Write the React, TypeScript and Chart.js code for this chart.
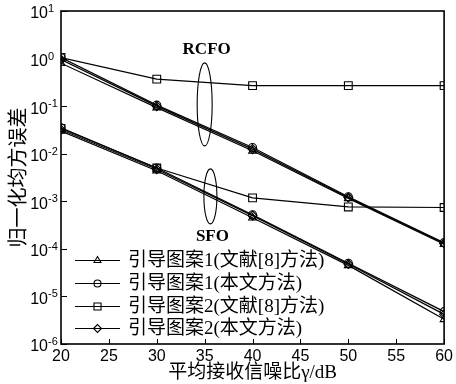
import React, { useEffect, useRef } from 'react';
import { Chart, registerables } from 'chart.js';

Chart.register(...registerables);

// ---- data ----
const snr = [20, 30, 40, 50, 60];
const xTickValues = [20, 25, 30, 35, 40, 45, 50, 55, 60];
const yExponents = [-6, -5, -4, -3, -2, -1, 0, 1];

// pilot pattern 1, ref [8] method (triangle)
const rcfoP1Ref = [0.8, 0.093, 0.0115, 0.00115, 0.000125];
const sfoP1Ref = [0.03, 0.0044, 0.00045, 0.000045, 0.0000033];
// pilot pattern 1, proposed (circle)
const rcfoP1Ours = [1.05, 0.105, 0.0135, 0.00125, 0.000135];
const sfoP1Ours = [0.035, 0.0050, 0.00052, 0.00005, 0.0000048];
// pilot pattern 2, ref [8] method (square)
const rcfoP2Ref = [1.05, 0.37, 0.27, 0.27, 0.27];
const sfoP2Ref = [0.034, 0.0050, 0.00118, 0.00076, 0.00074];
// pilot pattern 2, proposed (diamond)
const rcfoP2Ours = [0.95, 0.1, 0.0125, 0.0012, 0.00013];
const sfoP2Ours = [0.032, 0.0047, 0.0005, 0.000048, 0.0000042];

const legendLabels = [
  '引导图案1(文献[8]方法)',
  '引导图案1(本文方法)',
  '引导图案2(文献[8]方法)',
  '引导图案2(本文方法)',
];
const markerStyles = ['triangle', 'circle', 'rect', 'rectRot'];
const markerRadii = [4.5, 4, 5.5, 4.5];
const rcfoSeries = [rcfoP1Ref, rcfoP1Ours, rcfoP2Ref, rcfoP2Ours];
const sfoSeries = [sfoP1Ref, sfoP1Ours, sfoP2Ref, sfoP2Ours];

// annotation groups (data space): label, ellipse center x, top y, bottom y, label y
const groupLabels = ['RCFO', 'SFO'];
const groupX = [35, 35.6];
const groupTop = [0.81, 0.0048];
const groupBottom = [0.0146, 0.000335];
const groupLabelY = [1.58, 0.00018];

const SANS = '"Liberation Sans", Arial, sans-serif';
const SERIF = '"Liberation Serif", "Times New Roman", "Noto Sans CJK SC", serif';
const CJK_SANS = '"Noto Sans CJK SC", sans-serif';

function drawMarker(ctx: CanvasRenderingContext2D, style: string, x: number, y: number, r: number) {
  ctx.beginPath();
  if (style === 'circle') {
    ctx.arc(x, y, r, 0, Math.PI * 2);
  } else if (style === 'triangle') {
    let rad = 0;
    ctx.moveTo(x + Math.sin(rad) * r, y - Math.cos(rad) * r);
    rad += (2 * Math.PI) / 3;
    ctx.lineTo(x + Math.sin(rad) * r, y - Math.cos(rad) * r);
    rad += (2 * Math.PI) / 3;
    ctx.lineTo(x + Math.sin(rad) * r, y - Math.cos(rad) * r);
    ctx.closePath();
  } else if (style === 'rect') {
    const s = Math.SQRT1_2 * r;
    ctx.rect(x - s, y - s, 2 * s, 2 * s);
  } else {
    ctx.moveTo(x - r, y);
    ctx.lineTo(x, y - r);
    ctx.lineTo(x + r, y);
    ctx.lineTo(x, y + r);
    ctx.closePath();
  }
  ctx.stroke();
}

const decorPlugin = {
  id: 'decor',
  afterDraw(chart: any) {
    const ctx: CanvasRenderingContext2D = chart.ctx;
    const { left, right, top, bottom } = chart.chartArea;
    const xs = chart.scales.x;
    const ys = chart.scales.y;
    ctx.save();
    ctx.strokeStyle = '#000';
    ctx.fillStyle = '#000';
    // frame
    ctx.lineWidth = 1.6;
    ctx.strokeRect(left, top, right - left, bottom - top);
    // inward ticks
    ctx.lineWidth = 1;
    ctx.beginPath();
    xTickValues.forEach((v) => {
      const px = Math.round(xs.getPixelForValue(v)) + 0.5;
      ctx.moveTo(px, bottom);
      ctx.lineTo(px, bottom - 5);
    });
    yExponents.forEach((e) => {
      const py = Math.round(ys.getPixelForValue(Math.pow(10, e))) + 0.5;
      ctx.moveTo(left, py);
      ctx.lineTo(left + 6, py);
    });
    ctx.stroke();

    // y tick labels: 10 with superscript exponent
    yExponents.forEach((e) => {
      const py = ys.getPixelForValue(Math.pow(10, e));
      ctx.font = '16px ' + SANS;
      ctx.textAlign = 'right';
      ctx.textBaseline = 'middle';
      ctx.fillText('10', left - 13, py + 3);
      ctx.font = '11px ' + SANS;
      ctx.textAlign = 'left';
      ctx.textBaseline = 'middle';
      ctx.fillText(String(e), left - 13, py - 2);
    });

    // ellipses and group labels
    groupLabels.forEach((label, i) => {
      const cx = xs.getPixelForValue(groupX[i]);
      const yt = ys.getPixelForValue(groupTop[i]);
      const yb = ys.getPixelForValue(groupBottom[i]);
      const rx = i === 0 ? 7.5 : 6.5;
      ctx.lineWidth = 1.1;
      ctx.beginPath();
      ctx.ellipse(cx, (yt + yb) / 2, rx, (yb - yt) / 2, 0, 0, Math.PI * 2);
      ctx.stroke();
      ctx.font = 'bold 17px ' + SERIF;
      ctx.textAlign = 'center';
      ctx.textBaseline = 'middle';
      ctx.fillText(label, cx + 2, ys.getPixelForValue(groupLabelY[i]));
    });

    // legend
    const rowYs = [bottom - 84, bottom - 61, bottom - 38, bottom - 16];
    legendLabels.forEach((label, i) => {
      const y = rowYs[i];
      const x0 = left + 14;
      const x1 = left + 59;
      ctx.lineWidth = 1.1;
      ctx.beginPath();
      ctx.moveTo(x0, y + 0.5);
      ctx.lineTo(x1, y + 0.5);
      ctx.stroke();
      drawMarker(ctx, markerStyles[i], (x0 + x1) / 2, y + 0.5, markerRadii[i] - 0.5);
      ctx.font = '19px ' + SERIF;
      ctx.textAlign = 'left';
      ctx.textBaseline = 'middle';
      ctx.fillText(label, left + 67, y + 1);
    });
    ctx.restore();
  },
};

export default function App() {
  const canvasRef = useRef<HTMLCanvasElement | null>(null);

  useEffect(() => {
    const canvas = canvasRef.current;
    if (!canvas) return;
    const datasets: any[] = [];
    [rcfoSeries, sfoSeries].forEach((group, g) => {
      group.forEach((arr, i) => {
        datasets.push({
          label: legendLabels[i] + (g === 0 ? ' RCFO' : ' SFO'),
          data: snr.map((x, j) => ({ x, y: arr[j] })),
          borderColor: '#000',
          borderWidth: 1.2,
          backgroundColor: 'rgba(0,0,0,0)',
          pointStyle: markerStyles[i],
          pointRadius: markerRadii[i],
          pointBorderColor: '#000',
          pointBorderWidth: 1.1,
          pointBackgroundColor: 'rgba(0,0,0,0)',
          tension: 0,
          fill: false,
        });
      });
    });

    const chart = new Chart(canvas, {
      type: 'line',
      data: { datasets },
      options: {
        animation: false,
        responsive: false,
        maintainAspectRatio: false,
        layout: { padding: { left: 0, right: 8, top: 11, bottom: 0 } },
        plugins: { legend: { display: false }, tooltip: { enabled: false } },
        scales: {
          x: {
            type: 'linear',
            min: 20,
            max: 60,
            afterBuildTicks: (s: any) => {
              s.ticks = xTickValues.map((v) => ({ value: v }));
            },
            afterFit: (s: any) => {
              s.height = 40;
            },
            grid: { display: false, drawTicks: false },
            border: { display: false },
            ticks: {
              color: '#000',
              font: { family: SANS, size: 16 },
              padding: 3,
              maxRotation: 0,
              autoSkip: false,
            },
            title: {
              display: true,
              text: '平均接收信噪比γ/dB',
              color: '#000',
              font: { family: SERIF, size: 19 },
              padding: 0,
            },
          },
          y: {
            type: 'logarithmic',
            min: 1e-6,
            max: 10,
            afterBuildTicks: (s: any) => {
              s.ticks = yExponents.map((e) => ({ value: Math.pow(10, e) }));
            },
            afterFit: (s: any) => {
              s.width = 61;
            },
            grid: { display: false, drawTicks: false },
            border: { display: false },
            ticks: { display: false },
            title: {
              display: true,
              text: '归一化均方误差',
              color: '#000',
              font: { family: CJK_SANS, size: 20 },
              padding: { top: 5, bottom: 0 },
            },
          },
        },
      },
      plugins: [decorPlugin],
    });
    return () => chart.destroy();
  }, []);

  return (
    <div style={{ position: 'absolute', left: 0, top: 0, width: 456, height: 384, background: '#fff' }}>
      <canvas ref={canvasRef} width={456} height={384} style={{ display: 'block' }} />
    </div>
  );
}
